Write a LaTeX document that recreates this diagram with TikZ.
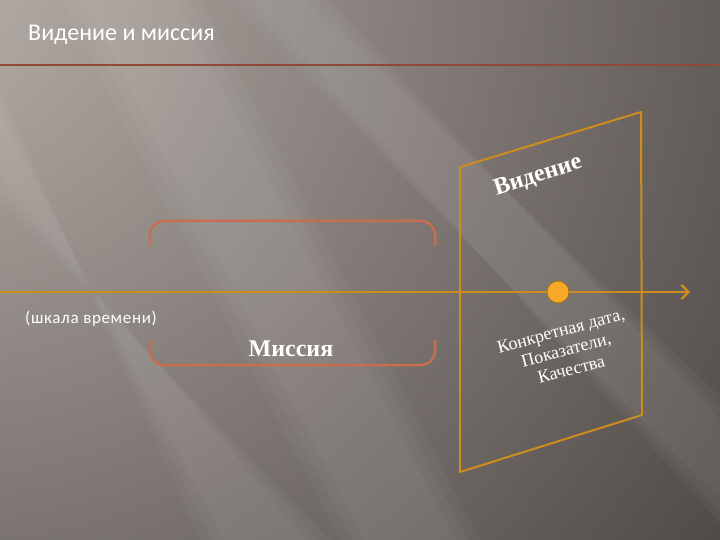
\documentclass[tikz,border=0pt]{standalone}
\usepackage{fontspec}
\setmainfont{Liberation Serif}
\newfontfamily\slidefont{Carlito}
\usetikzlibrary{arrows.meta}
\definecolor{bgdark}{RGB}{76,70,68}
\definecolor{bglight}{RGB}{182,174,168}
\definecolor{gold}{RGB}{205,140,30}
\definecolor{rust}{RGB}{140,75,50}
\definecolor{salmon}{RGB}{200,110,80}
\definecolor{dotfill}{RGB}{248,168,40}
\tikzset{x=1pt,y=-1pt,
 beam/.style={fill=white,opacity=0.035},
 timeline/.style={draw=gold,line width=2.2pt,-{Straight Barb[length=7pt,width=14pt,line width=2.2pt]}},
 plane/.style={draw=gold,line width=2pt,line join=round},
 bracket/.style={draw=salmon,line width=2.5pt,rounded corners=14pt},
 wtext/.style={text=white,inner sep=0pt},
 bigword/.style={wtext,font=\bfseries\fontsize{24}{28}\selectfont},
 }
\begin{document}
\begin{tikzpicture}
        % background
        \fill[bgdark] (0,0) rectangle (720,540);
        \begin{scope}
        \clip (0,0) rectangle (720,540);
        \shade[inner color=bglight,outer color=bgdark] (-60,-20) circle (1000);
        \foreach \d in {0,12,24}{
          \fill[beam] (60+\d,0) -- (200-\d,0) -- (480-\d,540) -- (340+\d,540) -- cycle;
          \fill[beam] (0,90+\d) -- (0,200-\d) -- (330-\d,540) -- (200+\d,540) -- cycle;
          \fill[beam] (230+\d,0) -- (330-\d,0) -- (720,420-\d) -- (720,500+\d) -- cycle;
        }
        \end{scope}
        \useasboundingbox (0,0) rectangle (720,540);
        % title
        \node[wtext,anchor=base west,font=\slidefont\fontsize{24}{28}\selectfont] (title) at (28,41) {Видение и миссия};
        \coordinate (barL) at (0,65);
        \coordinate (barR) at (720,65);
        \draw[rust,line width=2.2pt] (barL) -- (barR);
        % brackets of the mission
        \coordinate (tl) at (150,246);
        \coordinate (tr) at (435,246);
        \coordinate (bl) at (150,340);
        \coordinate (br) at (435,340);
        \draw[bracket] (tl) -- ++(0,-25) -- ++(285,0) -- (tr);
        \draw[bracket] (bl) -- ++(0,25) -- ++(285,0) -- (br);
        % the vision plane
        \coordinate (p1) at (460,167);
        \coordinate (p2) at (641,112);
        \coordinate (p3) at (642,415);
        \coordinate (p4) at (460,472);
        \draw[plane] (p1) -- (p2) -- (p3) -- (p4) -- cycle;
        % time line
        \coordinate (start) at (0,292);
        \coordinate (end) at (690,292);
        \draw[timeline] (start) -- (end);
        \node[circle,fill=dotfill,draw=gold!80!black,line width=0.8pt,minimum size=22pt,inner sep=0pt] (goal) at (558,292) {};
        % labels
        \node[bigword,rotate=18] (vision) at (538,176) {Видение};
        \node[bigword] (mission) at (291,349) {Миссия};
        \node[wtext,anchor=base west,font=\slidefont\fontsize{17}{20}\selectfont\addfontfeature{LetterSpace=4}] (scale) at (25,323) {(шкала времени)};
        \node[wtext,rotate=15,align=center,font=\fontsize{18}{20}\selectfont] (facts) at (566,350) {Конкретная дата,\\Показатели,\\Качества};
\end{tikzpicture}
\end{document}
